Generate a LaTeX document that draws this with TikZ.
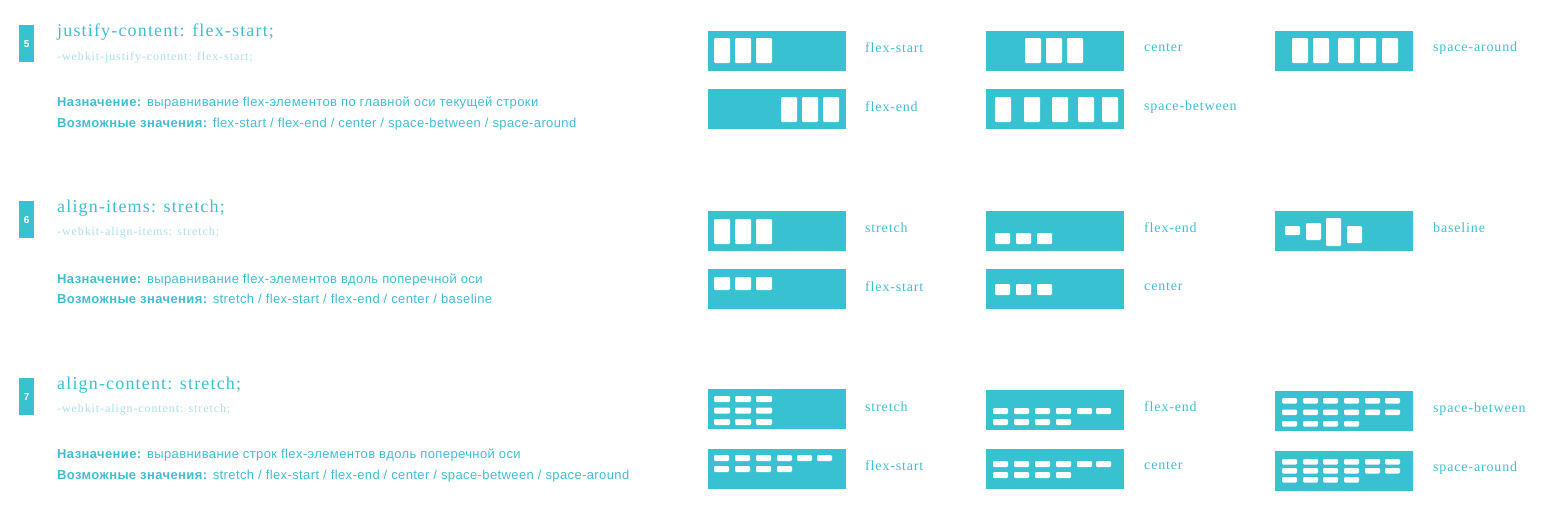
\documentclass[tikz,border=0pt]{standalone}
\usepackage{fontspec}
\setmainfont{Liberation Serif}
\setsansfont{Liberation Sans}
\newfontfamily\headfont[LetterSpace=6.5]{Liberation Serif}
\newfontfamily\subfont[LetterSpace=7.5]{Liberation Serif}
\newfontfamily\lblfont[LetterSpace=6]{Liberation Serif}
\newfontfamily\descfont[LetterSpace=3]{Liberation Sans}
\definecolor{teal1}{RGB}{56,193,209}
\definecolor{tealtxt}{RGB}{64,190,207}
\definecolor{teallight}{RGB}{172,222,231}
\tikzset{
  fbox/.style={fill=teal1, draw=none, inner sep=0pt, minimum width=138pt, minimum height=40pt, anchor=north west},
  itm/.style={fill=white, rounded corners=1.2pt},
  lbl/.style={anchor=west, inner sep=0pt, text=tealtxt, font=\lblfont\fontsize{14}{16}\selectfont},
  numbox/.style={fill=teal1, inner sep=0pt, minimum width=15pt, minimum height=37pt, anchor=north west, text=white, font=\sffamily\bfseries\fontsize{10}{11}\selectfont},
  head/.style={anchor=west, inner sep=0pt, text=tealtxt, font=\headfont\fontsize{18}{20}\selectfont},
  sub/.style={anchor=west, inner sep=0pt, text=teallight, font=\subfont\fontsize{12}{13}\selectfont},
  desc/.style={anchor=west, inner sep=0pt, text=tealtxt, font=\descfont\fontsize{13}{15}\selectfont},
}
\begin{document}
\begin{tikzpicture}[x=1pt,y=-1pt]
\useasboundingbox (0,0) rectangle (1561,520);
% ---------------- left column ----------------
\node[numbox] (n5) at (19,25) {5};
\node[head] (h5) at (57,32) {justify-content: flex-start;};
\node[sub] (s5) at (57,58) {-webkit-justify-content: flex-start;};
\node[desc] (d5a) at (57,103) {\textbf{Назначение:} выравнивание flex-элементов по главной оси текущей строки};
\node[desc] (d5b) at (57,124) {\textbf{Возможные значения:} flex-start / flex-end / center / space-between / space-around};

\node[numbox] (n6) at (19,201) {6};
\node[head] (h6) at (57,208) {align-items: stretch;};
\node[sub] (s6) at (57,233) {-webkit-align-items: stretch;};
\node[desc] (d6a) at (57,280) {\textbf{Назначение:} выравнивание flex-элементов вдоль поперечной оси};
\node[desc] (d6b) at (57,299) {\textbf{Возможные значения:} stretch / flex-start / flex-end / center / baseline};

\node[numbox] (n7) at (19,378) {7};
\node[head] (h7) at (57,385) {align-content: stretch;};
\node[sub] (s7) at (57,410) {-webkit-align-content: stretch;};
\node[desc] (d7a) at (57,455) {\textbf{Назначение:} выравнивание строк flex-элементов вдоль поперечной оси};
\node[desc] (d7b) at (57,476) {\textbf{Возможные значения:} stretch / flex-start / flex-end / center / space-between / space-around};

% ---------------- section 5: justify-content ----------------
\node[fbox] (jfs) at (708,31) {};
\foreach \x in {714,735,756} \fill[itm] (\x,38) rectangle ++(16,25);
\node[lbl] (ljfs) at (865,48) {flex-start};

\node[fbox] (jfe) at (708,89) {};
\foreach \x in {781,802,823} \fill[itm] (\x,97) rectangle ++(16,25);
\node[lbl] (ljfe) at (865,107) {flex-end};

\node[fbox] (jc) at (986,31) {};
\foreach \x in {1025,1046,1067} \fill[itm] (\x,38) rectangle ++(16,25);
\node[lbl] (ljc) at (1144,48) {center};

\node[fbox] (jsb) at (986,89) {};
\foreach \x in {995,1024,1052,1078,1102} \fill[itm] (\x,97) rectangle ++(16,25);
\node[lbl] (ljsb) at (1144,107) {space-between};

\node[fbox] (jsa) at (1275,31) {};
\foreach \x in {1292,1313,1338,1360,1382} \fill[itm] (\x,38) rectangle ++(16,25);
\node[lbl] (ljsa) at (1433,48) {space-around};

% ---------------- section 6: align-items ----------------
\node[fbox] (ist) at (708,211) {};
\foreach \x in {714,735,756} \fill[itm] (\x,219) rectangle ++(16,25);
\node[lbl] (list) at (865,228) {stretch};

\node[fbox] (ifs) at (708,269) {};
\foreach \x in {714,735,756} \fill[itm] (\x,277) rectangle ++(16,13);
\node[lbl] (lifs) at (865,287) {flex-start};

\node[fbox] (ife) at (986,211) {};
\foreach \x in {995,1016,1037} \fill[itm] (\x,233) rectangle ++(15,11);
\node[lbl] (life) at (1144,228) {flex-end};

\node[fbox] (ic) at (986,269) {};
\foreach \x in {995,1016,1037} \fill[itm] (\x,284) rectangle ++(15,11);
\node[lbl] (lic) at (1144,287) {center};

\node[fbox] (ibl) at (1275,211) {};
\fill[itm] (1285,226) rectangle ++(15,9);
\fill[itm] (1306,223) rectangle ++(15,17);
\fill[itm] (1326,218) rectangle ++(15,28);
\fill[itm] (1347,226) rectangle ++(15,17);
\node[lbl] (libl) at (1433,228) {baseline};

% ---------------- section 7: align-content ----------------
\node[fbox] (cst) at (708,389) {};
\foreach \y in {396,407.5,419} \foreach \x in {714,735,756} \fill[itm] (\x,\y) rectangle ++(16,6);
\node[lbl] (lcst) at (865,407) {stretch};

\node[fbox] (cfs) at (708,449) {};
\foreach \x in {714,735,756,777,797,817} \fill[itm] (\x,455) rectangle ++(15,6);
\foreach \x in {714,735,756,777} \fill[itm] (\x,466) rectangle ++(15,6);
\node[lbl] (lcfs) at (865,466) {flex-start};

\node[fbox] (cfe) at (986,390) {};
\foreach \x in {993,1014,1035,1056,1077,1096} \fill[itm] (\x,408) rectangle ++(15,6);
\foreach \x in {993,1014,1035,1056} \fill[itm] (\x,419) rectangle ++(15,6);
\node[lbl] (lcfe) at (1144,407) {flex-end};

\node[fbox] (cc) at (986,449) {};
\foreach \x in {993,1014,1035,1056,1077,1096} \fill[itm] (\x,461) rectangle ++(15,6);
\foreach \x in {993,1014,1035,1056} \fill[itm] (\x,472) rectangle ++(15,6);
\node[lbl] (lcc) at (1144,466) {center};

\node[fbox] (csb) at (1275,391) {};
\foreach \y in {398,409.5} \foreach \x in {1282,1303,1323,1344,1365,1385} \fill[itm] (\x,\y) rectangle ++(15,5.5);
\foreach \x in {1282,1303,1323,1344} \fill[itm] (\x,421) rectangle ++(15,5.5);
\node[lbl] (lcsb) at (1433,409) {space-between};

\node[fbox] (csa) at (1275,451) {};
\foreach \y in {459,468} \foreach \x in {1282,1303,1323,1344,1365,1385} \fill[itm] (\x,\y) rectangle ++(15,5.5);
\foreach \x in {1282,1303,1323,1344} \fill[itm] (\x,477) rectangle ++(15,5.5);
\node[lbl] (lcsa) at (1433,468) {space-around};
\end{tikzpicture}
\end{document}
